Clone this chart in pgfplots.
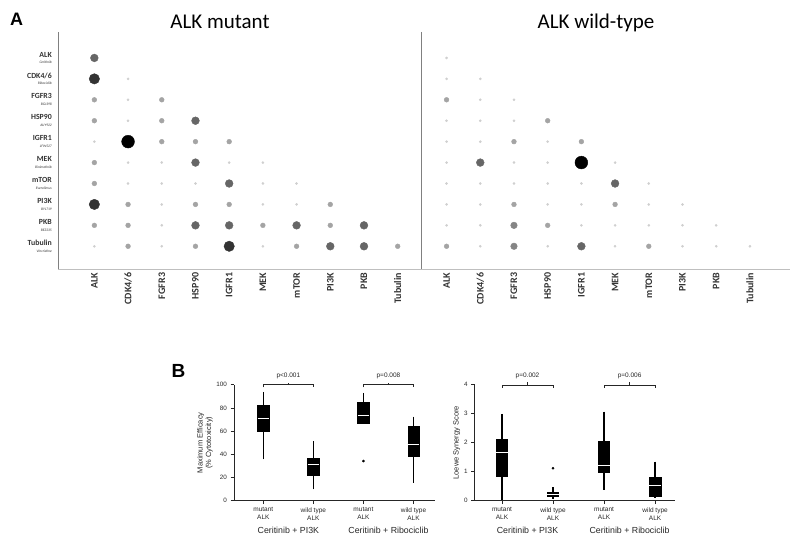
\documentclass[border=0pt]{standalone}
\usepackage{fontspec}
\setmainfont{Carlito}
\newfontfamily\arial{Liberation Sans}
\usepackage{pgfplots}
\pgfplotsset{compat=1.18}
\usepgfplotslibrary{statistics}
\definecolor{cT}{HTML}{CFCFCF}
\definecolor{cS}{HTML}{A4A4A4}
\definecolor{cM}{HTML}{858585}
\definecolor{cD}{HTML}{666666}
\definecolor{cL}{HTML}{333333}
\definecolor{cH}{HTML}{000000}
\newcommand{\yl}[2]{{\bfseries #1}\\{\fontsize{3.6}{4}\selectfont\itshape #2}}
\newcommand{\bfont}{\arial\fontsize{6.5}{7.6}\selectfont}
\begin{document}
\begin{tikzpicture}[x=1pt,y=1pt]
\path[use as bounding box] (0,0) rectangle (800,543);
\node[anchor=base west,inner sep=0] at (10,517) {\arial\fontsize{18}{18}\selectfont\bfseries A};
\node[anchor=base west,inner sep=0] at (171.5,165.7) {\arial\fontsize{19}{19}\selectfont\bfseries B};
\node[anchor=base] at (220,514) {\fontsize{21}{21}\selectfont ALK mutant};
\node[anchor=base] at (596,514) {\fontsize{21}{21}\selectfont ALK wild-type};
% ---------------- Panel A
\begin{axis}[at={(58.3pt,273.7pt)}, anchor=south west, scale only axis,
  width=731.7pt, height=237.3pt,
  xmin=-1.07, xmax=20.64, ymin=-10.1, ymax=1.24,
  axis lines*=left, axis line style={-},
  x axis line style={draw=black!25}, y axis line style={draw=black!50},
  major tick length=0pt, clip=false,
  xtick={0,1,2,3,4,5,6,7,8,9,10.45,11.45,12.45,13.45,14.45,15.45,16.45,17.45,18.45,19.45},
  xticklabels={ALK,CDK4/6,FGFR3,HSP90,IGFR1,MEK,mTOR,PI3K,PKB,Tubulin,ALK,CDK4/6,FGFR3,HSP90,IGFR1,MEK,mTOR,PI3K,PKB,Tubulin},
  xticklabel style={rotate=90, anchor=east, font={\fontsize{10}{10}\selectfont\bfseries}, text=black!80},
  ytick={-9,-8,-7,-6,-5,-4,-3,-2,-1,0},
  yticklabels={{\yl{Tubulin}{Vincristine}},{\yl{PKB}{BEZ235}},{\yl{PI3K}{BYL719}},{\yl{mTOR}{Everolimus}},{\yl{MEK}{Binimetinib}},{\yl{IGFR1}{LFW527}},{\yl{HSP90}{AUY922}},{\yl{FGFR3}{BGJ398}},{\yl{CDK4/6}{Ribociclib}},{\yl{ALK}{Ceritinib}}},
  yticklabel style={align=right, font={\fontsize{7.8}{6.7}\selectfont}, text=black!80, xshift=-3pt},
]
\draw[black!50] (axis cs:9.69,1.24) -- (axis cs:9.69,-10.1);
\addplot[only marks, mark=*, mark size=1.1pt, color=cT] coordinates {
(1,-1) (1,-2) (1,-3) (0,-4) (1,-5) (2,-5) (4,-5) (5,-5) (1,-6) (2,-6) (3,-6) (5,-6) (6,-6) (2,-7) (5,-7) (6,-7) (2,-8) (0,-9) (2,-9) (5,-9)
(10.45,0) (10.45,-1) (11.45,-1) (11.45,-2) (12.45,-2) (10.45,-3) (11.45,-3) (12.45,-3)
(10.45,-4) (11.45,-4) (13.45,-4) (10.45,-5) (12.45,-5) (13.45,-5) (15.45,-5)
(10.45,-6) (11.45,-6) (12.45,-6) (13.45,-6) (14.45,-6) (16.45,-6)
(10.45,-7) (11.45,-7) (13.45,-7) (14.45,-7) (16.45,-7) (17.45,-7)
(10.45,-8) (11.45,-8) (14.45,-8) (15.45,-8) (16.45,-8) (17.45,-8) (18.45,-8)
(11.45,-9) (13.45,-9) (15.45,-9) (17.45,-9) (18.45,-9) (19.45,-9)};
\addplot[only marks, mark=*, mark size=2.4pt, color=cS] coordinates {
(0,-2) (2,-2) (0,-3) (2,-3) (2,-4) (3,-4) (4,-4) (0,-5) (0,-6) (1,-7) (3,-7) (4,-7) (7,-7) (0,-8) (1,-8) (5,-8) (7,-8) (1,-9) (3,-9) (6,-9) (9,-9)
(10.45,-2) (13.45,-3) (12.45,-4) (14.45,-4) (12.45,-7) (15.45,-7) (13.45,-8) (10.45,-9) (16.45,-9)};
\addplot[only marks, mark=*, mark size=3.3pt, color=cM] coordinates {(12.45,-8) (12.45,-9)};
\addplot[only marks, mark=*, mark size=3.9pt, color=cD] coordinates {
(0,0) (3,-3) (3,-5) (4,-6) (3,-8) (4,-8) (6,-8) (8,-8) (7,-9) (8,-9) (11.45,-5) (15.45,-6) (14.45,-9)};
\addplot[only marks, mark=*, mark size=5.2pt, color=cL] coordinates {(0,-1) (0,-7) (4,-9)};
\addplot[only marks, mark=*, mark size=6.4pt, color=cH] coordinates {(1,-4) (14.45,-5)};
\end{axis}
% ---------------- Panel B left
\pgfplotsset{bstyle/.style={scale only axis, anchor=south west, height=115.9pt,
  axis lines*=left, axis line style={-, black!85, line width=0.8pt},
  tick align=outside, major tick length=3.5pt, tick style={black!85, line width=0.7pt},
  clip=false, xtick={1,2,3,4},
  xticklabels={{mutant\\ALK},{wild type\\ALK},{mutant\\ALK},{wild type\\ALK}},
  xticklabel style={align=center, font=\bfont, text=black!85},
  yticklabel style={font=\arial\fontsize{6.3}{7}\selectfont, text=black!85},
  /pgf/number format/assume math mode=true,
  ylabel style={align=center, font=\arial\fontsize{7.5}{8.5}\selectfont, text=black!85, yshift=-3pt},
  boxplot/draw direction=y,
  boxplot/whisker extend=0,
  boxplot/every median/.style={draw=white, line width=0.5pt},
  boxplot/every whisker/.style={line width=1.3pt},
}}
\begin{axis}[bstyle, at={(234pt,42.3pt)}, width=201pt,
  xmin=0.414, xmax=4.43, ymin=0, ymax=100, ytick={0,20,40,60,80,100},
  ylabel={Maximum Efficacy\\(\% Cytotoxicity)}]
\addplot[fill=black, draw=black, boxplot prepared={draw position=1, median=71, upper quartile=82.5, lower quartile=60, upper whisker=94, lower whisker=35.7, box extend=0.23}] coordinates {};
\addplot[fill=black, draw=black, boxplot prepared={draw position=2, median=31.7, upper quartile=36.6, lower quartile=21.6, upper whisker=51.5, lower whisker=9.8, box extend=0.23}] coordinates {};
\addplot[fill=black, draw=black, mark=*, mark size=1.1pt, boxplot prepared={draw position=3, median=74, upper quartile=84.6, lower quartile=66.8, upper whisker=93, lower whisker=66.8, box extend=0.23}] coordinates {(0,34.2)};
\addplot[fill=black, draw=black, boxplot prepared={draw position=4, median=49, upper quartile=64.4, lower quartile=38.8, upper whisker=72.5, lower whisker=15.5, box extend=0.23}] coordinates {};
\draw[black!85, line width=0.6pt] (axis cs:1,97.8) -- (axis cs:1,100.4) -- (axis cs:2,100.4) -- (axis cs:2,97.8);
\draw[black!85, line width=0.6pt] (axis cs:1.5,100.4) -- (axis cs:1.5,101.8);
\node[font=\bfont, text=black!85] at (axis cs:1.5,107.6) {p<0.001};
\draw[black!85, line width=0.6pt] (axis cs:3,97.8) -- (axis cs:3,100.4) -- (axis cs:4,100.4) -- (axis cs:4,97.8);
\draw[black!85, line width=0.6pt] (axis cs:3.5,100.4) -- (axis cs:3.5,101.8);
\node[font=\bfont, text=black!85] at (axis cs:3.5,107.6) {p=0.008};
\node[font=\arial\fontsize{8.8}{10}\selectfont, text=black!85] at ([yshift=-29.3pt]axis cs:1.5,0) {Ceritinib + PI3K};
\node[font=\arial\fontsize{8.8}{10}\selectfont, text=black!85] at ([yshift=-29.3pt]axis cs:3.5,0) {Ceritinib + Ribociclib};
\end{axis}
% ---------------- Panel B right
\begin{axis}[bstyle, at={(474.7pt,42.3pt)}, width=200.3pt,
  xmin=0.465, xmax=4.39, ymin=0, ymax=4, ytick={0,1,2,3,4},
  ylabel={Loewe Synergy Score}]
\addplot[fill=black, draw=black, boxplot prepared={draw position=1, median=1.67, upper quartile=2.12, lower quartile=0.86, upper whisker=3.0, lower whisker=0.02, box extend=0.22}] coordinates {};
\addplot[fill=black, draw=black, mark=*, mark size=1.1pt, boxplot prepared={draw position=2, median=0.22, upper quartile=0.3, lower quartile=0.14, upper whisker=0.46, lower whisker=0.05, box extend=0.22}] coordinates {(0,1.12)};
\addplot[fill=black, draw=black, boxplot prepared={draw position=3, median=1.23, upper quartile=2.05, lower quartile=0.99, upper whisker=3.07, lower whisker=0.37, box extend=0.22}] coordinates {};
\addplot[fill=black, draw=black, boxplot prepared={draw position=4, median=0.55, upper quartile=0.81, lower quartile=0.17, upper whisker=1.35, lower whisker=0.09, box extend=0.22}] coordinates {};
\draw[black!85, line width=0.6pt] (axis cs:1,3.89) -- (axis cs:1,3.99) -- (axis cs:2,3.99) -- (axis cs:2,3.89);
\draw[black!85, line width=0.6pt] (axis cs:1.5,3.99) -- (axis cs:1.5,4.09);
\node[font=\bfont, text=black!85] at (axis cs:1.5,4.3) {p=0.002};
\draw[black!85, line width=0.6pt] (axis cs:3,3.89) -- (axis cs:3,3.99) -- (axis cs:4,3.99) -- (axis cs:4,3.89);
\draw[black!85, line width=0.6pt] (axis cs:3.5,3.99) -- (axis cs:3.5,4.09);
\node[font=\bfont, text=black!85] at (axis cs:3.5,4.3) {p=0.006};
\node[font=\arial\fontsize{8.8}{10}\selectfont, text=black!85] at ([yshift=-29.3pt]axis cs:1.5,0) {Ceritinib + PI3K};
\node[font=\arial\fontsize{8.8}{10}\selectfont, text=black!85] at ([yshift=-29.3pt]axis cs:3.5,0) {Ceritinib + Ribociclib};
\end{axis}
\end{tikzpicture}
\end{document}
